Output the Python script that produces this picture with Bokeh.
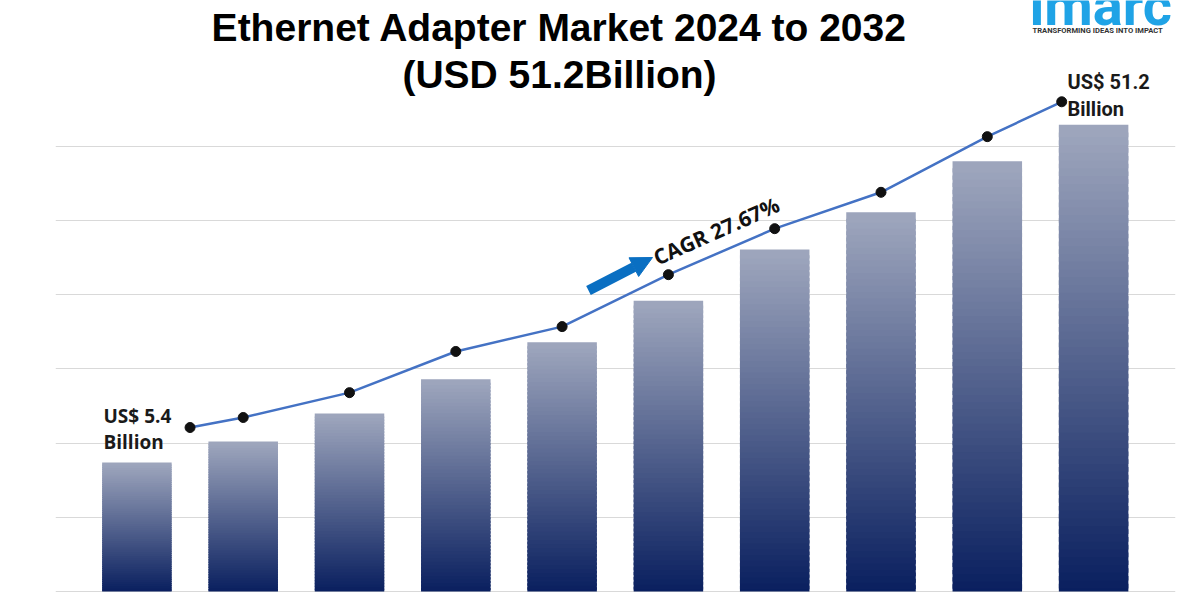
from bokeh.plotting import figure
from bokeh.models import Range1d, Grid, FixedTicker, Label, Arrow, NormalHead, ColumnDataSource
from bokeh.embed import file_html
from bokeh.resources import INLINE

# ---------------- data ----------------
periods = ["2023", "2024", "2025", "2026", "2027", "2028", "2029", "2030", "2031", "2032"]
bar_values = [17.4, 20.2, 24.0, 28.6, 33.6, 39.2, 46.1, 51.1, 58.0, 62.9]
trend_pos = [0.5, 1, 2, 3, 4, 5, 6, 7, 8, 8.7]
trend_values = [22.1, 23.45, 26.8, 32.35, 35.7, 42.7, 48.9, 53.8, 61.3, 66.0]
grid_ticks = [0, 10, 20, 30, 40, 50, 60]
start_label = ["US$ 5.4", "Billion"]
end_label = ["US$ 51.2", "Billion"]
cagr_text = "CAGR 27.67%"
title_lines = ["Ethernet Adapter Market 2024 to 2032", "(USD 51.2Billion)"]

# ---------------- layout helpers (picture pixel -> data) ----------------
X0, DX = 136.4, 106.3
Y0, DY = 591.0, 7.42


def X(px):
    return (px - X0) / DX


def Y(py):
    return (Y0 - py) / DY


W, H = 1200, 600
p = figure(width=W, height=H, output_backend="svg", toolbar_location=None,
           x_axis_type=None, y_axis_type=None,
           x_range=Range1d(X(55), X(1175)), y_range=Range1d(Y(593), Y(0)),
           min_border_left=55, min_border_right=25, min_border_top=0, min_border_bottom=7)
p.outline_line_color = None
p.background_fill_color = "white"
p.border_fill_color = "white"

p.add_layout(Grid(dimension=1, ticker=FixedTicker(ticks=grid_ticks),
                  grid_line_color="#d9d9d9", grid_line_width=1))

# ---------------- gradient bars ----------------
top_rgb = (158, 166, 189)
bot_rgb = (8, 30, 94)
N = 60
xs, bottoms, tops, colors = [], [], [], []
for i, v in enumerate(bar_values):
    for k in range(N):
        f0 = k / N
        f1 = (k + 1) / N
        t = (k + 0.5) / N
        c = tuple(int(round(b + (a - b) * t)) for a, b in zip(top_rgb, bot_rgb))
        xs.append(i)
        bottoms.append(max(0.0, (f0 - 0.6 / N)) * v)
        tops.append(f1 * v)
        colors.append("#%02x%02x%02x" % c)
src = ColumnDataSource(dict(x=xs, bottom=bottoms, top=tops, color=colors))
p.vbar(x="x", bottom="bottom", top="top", width=0.654, fill_color="color",
       line_color=None, source=src)

# ---------------- trend line ----------------
p.line(trend_pos, trend_values, line_color="#4472c4", line_width=2.5)
p.scatter(trend_pos, trend_values, size=10, fill_color="#111111", line_color="#111111")

# ---------------- titles ----------------
p.add_layout(Label(x=X(559), y=Y(27), text=title_lines[0], text_align="center",
                   text_baseline="alphabetic", text_font="Liberation Sans",
                   text_font_style="bold", text_font_size="39px", text_color="#000000"))
p.add_layout(Label(x=X(559), y=Y(74), text=title_lines[1], text_align="center",
                   text_baseline="alphabetic", text_font="Liberation Sans",
                   text_font_style="bold", text_font_size="39px", text_color="#000000"))

# ---------------- logo ----------------
p.add_layout(Label(x=X(1029), y=Y(5), text="imarc", text_align="left",
                   text_baseline="alphabetic", text_font="Roboto", text_font_style="bold",
                   text_font_size="56px", text_color="#1fa3e6"))
p.add_layout(Label(x=X(1032), y=Y(30), text="TRANSFORMING IDEAS INTO IMPACT", text_align="left",
                   text_baseline="alphabetic", text_font="Roboto", text_font_style="bold",
                   text_font_size="7.6px", text_color="#333333"))

# ---------------- value labels ----------------
p.add_layout(Label(x=X(103), y=Y(415), text=start_label[0], text_baseline="alphabetic",
                   text_font="Open Sans", text_font_style="bold", text_font_size="19px",
                   text_color="#1a1a1a"))
p.add_layout(Label(x=X(103), y=Y(441), text=start_label[1], text_baseline="alphabetic",
                   text_font="Open Sans", text_font_style="bold", text_font_size="19px",
                   text_color="#1a1a1a"))
p.add_layout(Label(x=X(1067), y=Y(81), text=end_label[0], text_baseline="alphabetic",
                   text_font="Roboto", text_font_style="bold", text_font_size="20px",
                   text_color="#1a1a1a"))
p.add_layout(Label(x=X(1067), y=Y(108), text=end_label[1], text_baseline="alphabetic",
                   text_font="Roboto", text_font_style="bold", text_font_size="20px",
                   text_color="#1a1a1a"))

# ---------------- CAGR annotation ----------------
p.add_layout(Arrow(x_start=X(588), y_start=Y(290), x_end=X(652), y_end=Y(257),
                   line_color="#0a6fc2", line_width=10,
                   end=NormalHead(size=21, fill_color="#0a6fc2", line_color="#0a6fc2")))
p.add_layout(Label(x=X(654), y=Y(258), text=cagr_text, angle=0.42, text_align="left",
                   text_baseline="alphabetic", text_font="Open Sans", text_font_style="bold",
                   text_font_size="21px", text_color="#111111"))

open("out.html", "w").write(file_html(p, INLINE))
